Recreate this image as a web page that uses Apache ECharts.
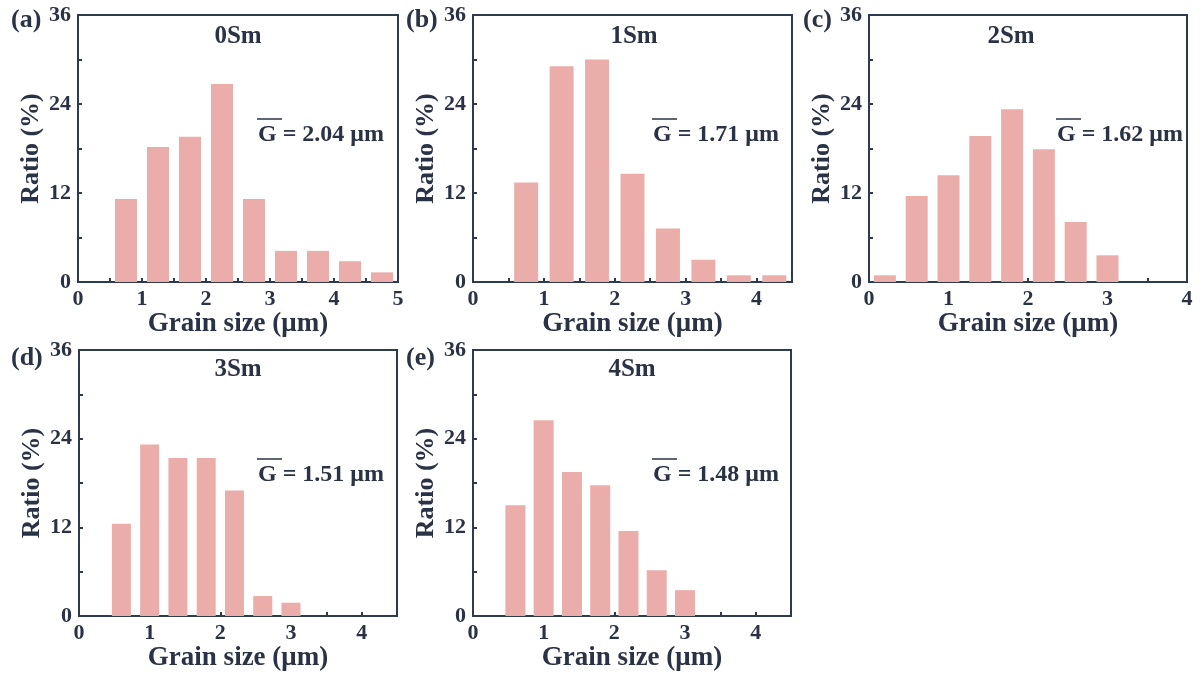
<!DOCTYPE html>
<html>
<head>
    <meta charset="UTF-8">
    <title>Grain size distribution</title>
    <style>
        html, body {
            margin: 0;
            padding: 0;
            background: #fff;
        }
        #chart-container {
            width: 1201px;
            height: 680px;
        }
    </style>
</head>
<body>
<div id="chart-container"></div>

<script src="https://cdn.jsdelivr.net/npm/echarts@6.0.0/dist/echarts.min.js"></script>
<script>
    // samples, panel tags and mean grain size
    const samples = ['0Sm', '1Sm', '2Sm', '3Sm', '4Sm'];
    const panelTags = ['(a)', '(b)', '(c)', '(d)', '(e)'];
    const meanSize = ['2.04', '1.71', '1.62', '1.51', '1.48'];

    // bin centres (μm) and ratio (%) for each sample
    const sizeA = [0.75, 1.25, 1.75, 2.25, 2.75, 3.25, 3.75, 4.25, 4.75];
    const ratioA = [11.2, 18.2, 19.6, 26.7, 11.2, 4.2, 4.2, 2.8, 1.3];
    const sizeB = [0.75, 1.25, 1.75, 2.25, 2.75, 3.25, 3.75, 4.25];
    const ratioB = [13.4, 29.1, 30.0, 14.6, 7.2, 3.0, 0.9, 0.9];
    const sizeC = [0.2, 0.6, 1.0, 1.4, 1.8, 2.2, 2.6, 3.0];
    const ratioC = [0.9, 11.6, 14.4, 19.7, 23.3, 17.9, 8.1, 3.6];
    const sizeD = [0.6, 1.0, 1.4, 1.8, 2.2, 2.6, 3.0];
    const ratioD = [12.5, 23.2, 21.4, 21.4, 17.0, 2.7, 1.8];
    const sizeE = [0.6, 1.0, 1.4, 1.8, 2.2, 2.6, 3.0];
    const ratioE = [15.0, 26.5, 19.5, 17.7, 11.5, 6.2, 3.5];

    // axis ranges, tick labels and tick marks
    const xMax = [5, 4.5, 4, 4.5, 4.5];
    const xLabelsA = [0, 1, 2, 3, 4, 5];
    const xLabelsB = [0, 1, 2, 3, 4];
    const xTicksA = [0.5, 1, 1.5, 2, 2.5, 3, 3.5, 4, 4.5];
    const xTicksB = [0.5, 1, 1.5, 2, 2.5, 3, 3.5, 4];
    const xTicksC = [0.5, 1, 1.5, 2, 2.5, 3, 3.5];
    const yLabels = [0, 12, 24, 36];
    const yTicks = [6, 12, 18, 24, 30];

    const sizes = [sizeA, sizeB, sizeC, sizeD, sizeE];
    const ratios = [ratioA, ratioB, ratioC, ratioD, ratioE];
    const xLabels = [xLabelsA, xLabelsB, xLabelsB, xLabelsB, xLabelsB];
    const xTicks = [xTicksA, xTicksB, xTicksC, xTicksB, xTicksB];

    // layout of each panel (px)
    const layout = [
        {grid: [78, 15, 320, 267], tag: [11, 20], title: [238, 37], note: [258, 135], bar: 22},
        {grid: [473, 15, 319, 267], tag: [406, 20], title: [634, 37], note: [653, 135], bar: 24},
        {grid: [869, 15, 318, 267], tag: [803, 20], title: [1011, 37], note: [1057, 135], bar: 22},
        {grid: [79, 350, 318, 266], tag: [11, 358], title: [238, 370], note: [258, 475], bar: 19},
        {grid: [473, 350, 318, 266], tag: [406, 358], title: [632, 370], note: [653, 475], bar: 20}
    ];

    const ink = '#2a3345';
    const frame = '#2e3a4e';
    const barColor = '#ebadaa';
    const font = '"Liberation Serif", "Times New Roman", serif';

    const chart = echarts.init(document.getElementById('chart-container'));

    const grids = [], xAxes = [], yAxes = [], series = [], graphics = [];

    layout.forEach(function (p, i) {
        grids.push({
            left: p.grid[0], top: p.grid[1], width: p.grid[2], height: p.grid[3],
            show: true, borderColor: frame, borderWidth: 2, backgroundColor: 'transparent'
        });
        xAxes.push({
            gridIndex: i, type: 'value', min: 0, max: xMax[i],
            name: 'Grain size (μm)', nameLocation: 'middle', nameGap: 26,
            nameTextStyle: {fontFamily: font, fontWeight: 'bold', fontSize: 27, color: ink},
            axisLine: {show: true, lineStyle: {color: frame, width: 2}},
            axisTick: {show: true, inside: true, length: 4, customValues: xTicks[i], lineStyle: {color: frame, width: 2}},
            axisLabel: {customValues: xLabels[i], margin: 6, fontFamily: font, fontWeight: 'bold', fontSize: 22, color: ink},
            splitLine: {show: false}
        });
        yAxes.push({
            gridIndex: i, type: 'value', min: 0, max: 36,
            name: 'Ratio (%)', nameLocation: 'middle', nameGap: 34,
            nameTextStyle: {fontFamily: font, fontWeight: 'bold', fontSize: 26, color: ink},
            axisLine: {show: true, lineStyle: {color: frame, width: 2}},
            axisTick: {show: true, inside: true, length: 4, customValues: yTicks, lineStyle: {color: frame, width: 2}},
            axisLabel: {customValues: yLabels, margin: 7, fontFamily: font, fontWeight: 'bold', fontSize: 22, color: ink},
            splitLine: {show: false}
        });
        series.push({
            type: 'bar', xAxisIndex: i, yAxisIndex: i,
            barWidth: p.bar,
            itemStyle: {color: barColor},
            data: sizes[i].map(function (s, j) { return [s, ratios[i][j]]; })
        });

        const textStyle = function (txt, size, align) {
            return {text: txt, fill: ink, fontFamily: font, fontWeight: 'bold', fontSize: size,
                align: align, verticalAlign: 'middle'};
        };
        graphics.push({type: 'text', x: p.tag[0], y: p.tag[1], style: textStyle(panelTags[i], 26, 'left')});
        graphics.push({type: 'text', x: p.title[0], y: p.title[1], style: textStyle(samples[i], 25, 'center')});
        graphics.push({type: 'text', x: p.note[0], y: p.note[1], style: textStyle('G = ' + meanSize[i] + ' μm', 24, 'left')});
        graphics.push({
            type: 'line',
            shape: {x1: p.note[0] - 1, y1: p.note[1] - 16, x2: p.note[0] + 24, y2: p.note[1] - 16},
            style: {stroke: ink, lineWidth: 1.5}
        });
    });

    chart.setOption({
        animation: false,
        grid: grids,
        xAxis: xAxes,
        yAxis: yAxes,
        series: series,
        graphic: graphics
    });
</script>
</body>
</html>
